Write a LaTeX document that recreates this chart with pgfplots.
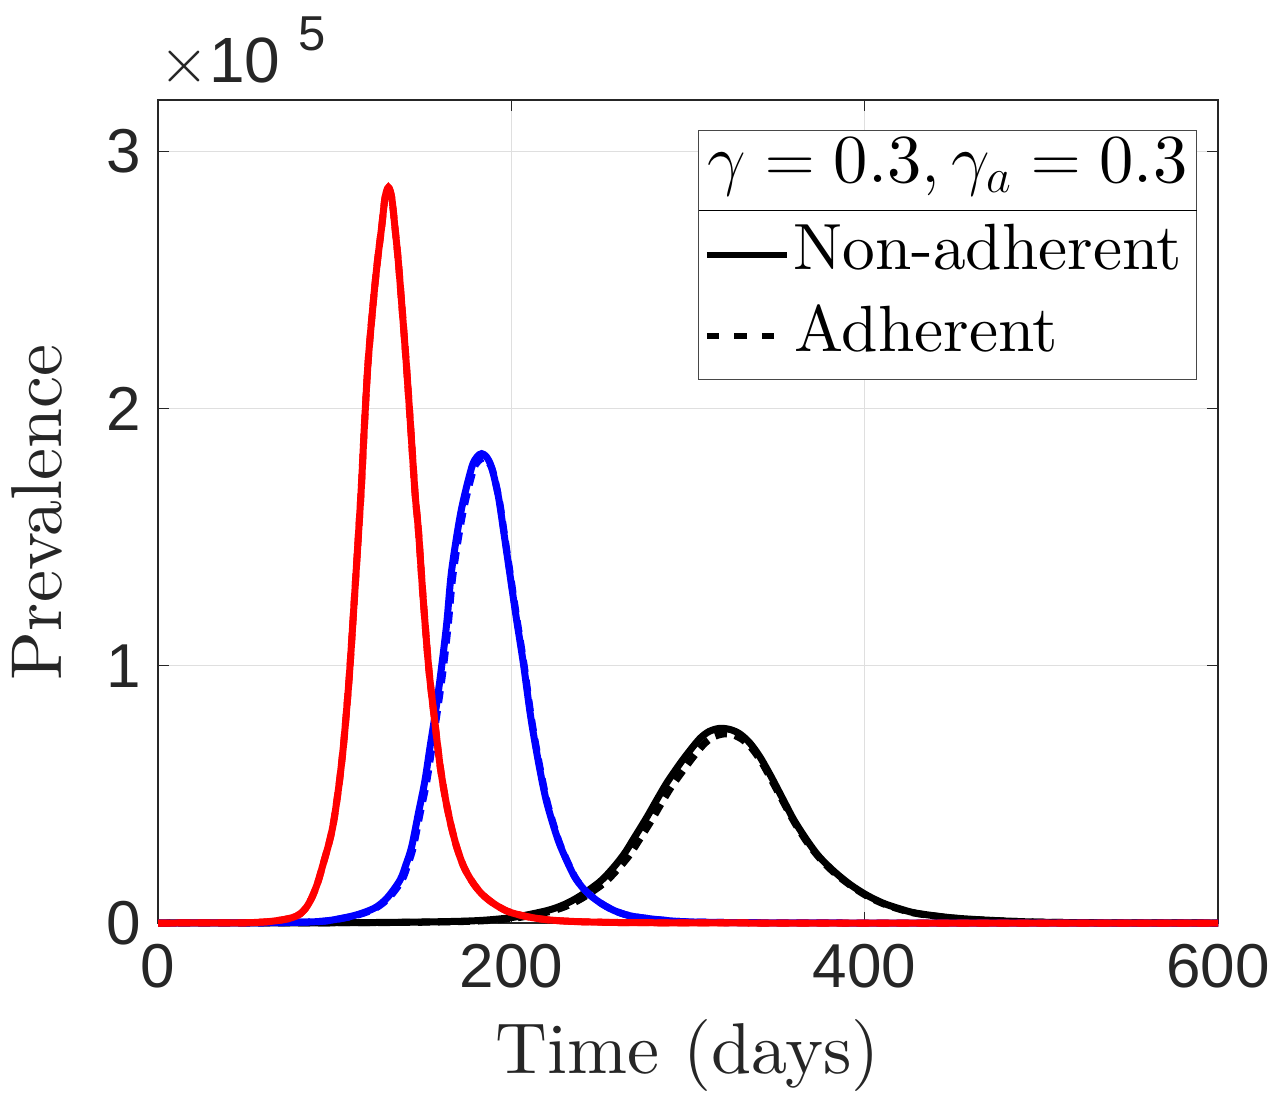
\RequirePackage{fix-cm}
\documentclass[border=0pt]{standalone}
\usepackage{fontspec}
\setmainfont{lmroman10-regular.otf}
\setsansfont{Liberation Sans}
\usepackage{pgfplots}
\pgfplotsset{compat=1.18}
\definecolor{axgray}{HTML}{262626}
\definecolor{gridgray}{HTML}{DFDFDF}
\definecolor{mred}{HTML}{FF0000}
\definecolor{mblue}{HTML}{0000FF}

\pgfplotstableread{
t v
0 0
30 0.0002
50 0.001
62 0.005
71 0.013
76 0.021
80.4 0.035
84.2 0.063
87.5 0.105
90.7 0.163
93.5 0.23
96.4 0.30
98.5 0.36
100.2 0.427
102.7 0.55
104.9 0.685
106.9 0.84
108.7 1.0
111.8 1.33
114.9 1.671
116.8 1.929
119 2.188
122.3 2.447
124.5 2.59
126.6 2.706
128.5 2.82
130.4 2.86
132.3 2.82
134.1 2.706
135.8 2.59
137.5 2.447
140.4 2.188
143 1.929
145.5 1.671
147.4 1.527
150 1.27
153 1.01
155 0.88
156.8 0.776
159.5 0.62
162.5 0.491
165.5 0.39
169 0.297
173 0.22
177.6 0.163
183 0.115
189.7 0.077
198 0.045
208.7 0.025
220 0.013
235 0.006
260 0.002
300 0.0005
350 0
600 0
}\redsolid

\pgfplotstableread{
t v
0 0
50 0.0005
80 0.003
95 0.008
108.7 0.025
117 0.042
123.8 0.063
130 0.10
137 0.167
140.5 0.23
143.6 0.297
147.4 0.427
151 0.55
154 0.685
157.5 0.84
160.6 1.0
163.5 1.17
166.2 1.37
171.5 1.60
177.5 1.77
180.5 1.812
183.2 1.825
186 1.812
188.9 1.77
192.7 1.657
195.5 1.53
198.3 1.398
202.5 1.20
206.8 1.01
211 0.80
215.5 0.62
220 0.47
226.6 0.32
233.2 0.215
237 0.167
242.6 0.12
250 0.08
257.7 0.05
266 0.03
276.6 0.018
295 0.006
320 0.002
360 0.0005
400 0
600 0
}\bluesolid

\pgfplotstableread{
t v
0 0
50 0.0005
80 0.003
95 0.008
109.5 0.025
118 0.042
124.5 0.063
131 0.10
138 0.165
141.5 0.228
144.5 0.294
148.3 0.423
152 0.545
155 0.678
158.3 0.83
161.5 0.99
164.3 1.16
167 1.355
172.3 1.585
178.2 1.755
181.2 1.795
184 1.807
186.8 1.795
189.6 1.755
193.3 1.64
196 1.515
198.8 1.385
203 1.19
207.3 1.0
211.5 0.79
216 0.613
220.5 0.465
227 0.317
233.5 0.213
237.3 0.165
243 0.119
250 0.08
257.7 0.05
266 0.03
276.6 0.018
295 0.006
320 0.002
360 0.0005
400 0
600 0
}\bluedashed

\pgfplotstableread{
t v
0 0
100 0.001
150 0.004
180 0.009
201 0.022
220 0.048
230 0.072
238.9 0.105
250.2 0.161
257.7 0.215
264 0.27
269 0.325
276.6 0.41
282 0.475
288 0.545
295.5 0.62
301 0.67
306.8 0.718
312 0.745
318 0.757
324 0.752
329.4 0.735
335 0.70
340.7 0.646
347 0.57
354 0.478
360 0.40
367.2 0.323
374 0.26
382.3 0.203
391.7 0.150
401 0.109
410.5 0.077
420 0.055
429.4 0.038
448.3 0.021
467 0.012
495 0.004
530 0.001
600 0
}\blacksolid

\pgfplotstableread{
t v
0 0
100 0.001
150 0.003
182 0.008
203 0.02
222 0.045
232 0.068
241 0.10
252.5 0.155
260 0.207
266.5 0.26
271.5 0.313
279 0.395
284.5 0.46
290.5 0.528
298 0.60
303.5 0.65
309 0.695
314 0.722
320 0.735
326 0.73
331 0.712
336 0.68
341.5 0.627
347.5 0.553
354.5 0.463
360.5 0.388
367.5 0.313
374.5 0.252
382.5 0.197
392 0.146
401 0.106
410.5 0.075
420 0.053
429.4 0.037
448.3 0.02
467 0.0115
495 0.004
530 0.001
600 0
}\blackdashed

\begin{document}
\begin{tikzpicture}
\begin{axis}[
  scale only axis, width=530pt, height=411.5pt,
  xmin=0, xmax=600, ymin=0, ymax=3.2,
  xtick={0,200,400,600}, ytick={0,1,2,3},
  grid=major, major grid style={gridgray, line width=0.5pt},
  axis line style={axgray, line width=0.6pt},
  tick style={axgray, line width=0.6pt},
  tick align=inside, major tick length=5.5pt,
  ticklabel style={font=\sffamily\fontsize{31}{37}\selectfont, text=axgray},
  /pgf/number format/assume math mode=true,
  scaled y ticks=false,
  yticklabel style={xshift=-5pt},
  xticklabel style={yshift=-7pt},
  xlabel={Time (days)}, ylabel={Prevalence},
  label style={font=\fontsize{36}{43}\selectfont, text=axgray},
  xlabel style={at={(rel axis cs:0.4995,-0.1826)}, anchor=base},
  ylabel style={at={(rel axis cs:-0.0906,0.4988)}, anchor=base},
  clip=false,
]
\addplot[black, line width=3.5pt, smooth] table[x=t,y=v] {\blacksolid};
\addplot[black, line width=3.5pt, smooth, dash pattern=on 6pt off 4pt] table[x=t,y=v] {\blackdashed};
\addplot[mblue, line width=3.5pt, smooth] table[x=t,y=v] {\bluesolid};
\addplot[mblue, line width=3.5pt, smooth, dash pattern=on 6pt off 4pt] table[x=t,y=v] {\bluedashed};
\addplot[mred, line width=3.5pt, smooth] table[x=t,y=v] {\redsolid};
\addplot[mred, line width=3.5pt, smooth, dash pattern=on 6pt off 4pt] table[x=t,y=v] {\redsolid};

\node[anchor=base west, inner sep=0pt, text=axgray, font=\sffamily\fontsize{32}{38}\selectfont]
  at (rel axis cs:0.00094,1.02187) {$\times$10\hspace{9pt}\raisebox{16pt}{\fontsize{24.5}{28}\selectfont 5}};

\node[draw=axgray!85, line width=0.6pt, fill=white, anchor=north west, inner sep=0pt,
      font=\fontsize{32.7}{40}\selectfont]
  at (rel axis cs:0.5094,0.96355) {%
  \vbox{\offinterlineskip\hsize=249pt
    \hbox to 249pt{\vrule height 25.85pt depth 13.85pt width 0pt\hfil\fontsize{34.3}{41}\selectfont$\gamma=\mbox{0.3},\gamma_a=\mbox{0.3}$\hfil}
    \hrule height 0.6pt
    \hbox to 249pt{\vrule height 29.15pt depth 0pt width 0pt\hskip4.2pt\rule[5.6pt]{40pt}{3pt}\hskip3.2pt Non-adherent\hfil}
    \hbox to 249pt{\vrule height 40.85pt depth 13.65pt width 0pt\hskip4.2pt\rule[6.5pt]{6.25pt}{3pt}\hskip7.5pt\rule[6.5pt]{6.25pt}{3pt}\hskip7.5pt\rule[6.5pt]{6.25pt}{3pt}\hskip10pt Adherent\hfil}
  }};

\coordinate (bbA) at (rel axis cs:-0.14906,-0.21993);
\coordinate (bbB) at (rel axis cs:1.04811,1.12151);
\end{axis}
\pgfresetboundingbox
\path[use as bounding box] (bbA) rectangle (bbB);
\end{tikzpicture}
\end{document}
